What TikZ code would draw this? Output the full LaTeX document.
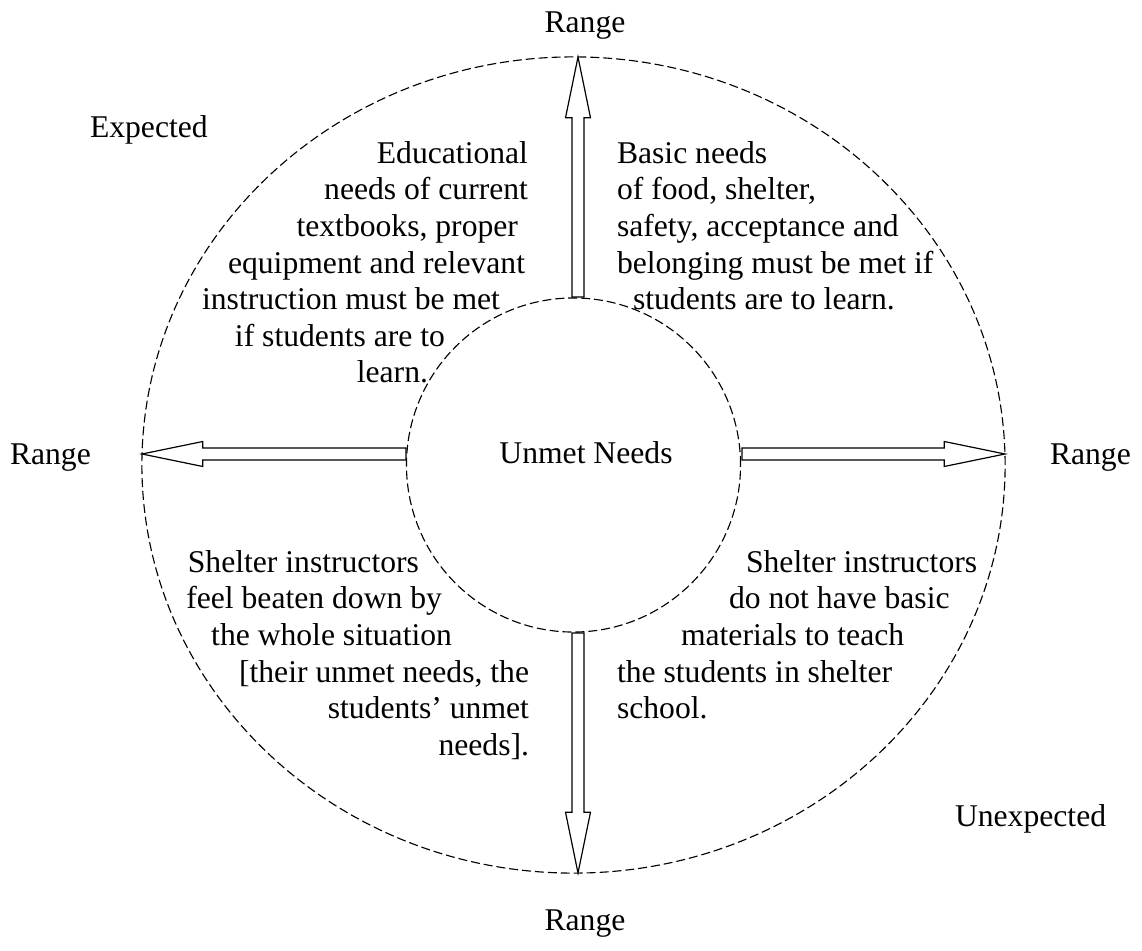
\documentclass[tikz,border=0pt]{standalone}
\usepackage{fontspec}
\setmainfont{Liberation Serif}
\usetikzlibrary{calc,shapes.geometric}
\newcommand\blockarr[2]{%
  \path ($(#2)!1.52cm!(#1)$) coordinate (hb);
  \draw[arrowbody] ($(#1)!0.15cm!90:(#2)$) -- ($(hb)!0.15cm!90:(#2)$)
    -- ($(hb)!0.3125cm!90:(#2)$) -- (#2) -- ($(hb)!0.3125cm!-90:(#2)$)
    -- ($(hb)!0.15cm!-90:(#2)$) -- ($(#1)!0.15cm!-90:(#2)$) -- cycle;}
\newcommand\gapr[1]{\rule{#1}{0pt}}
\begin{document}
\begin{tikzpicture}[x=0.025cm,y=-0.025cm,
  txt/.style={font=\fontsize{22.5}{26}\selectfont, inner sep=0pt, outer sep=0pt},
  ring/.style={draw, dash pattern=on 6.4pt off 2.8pt, line width=0.8pt, inner sep=0pt},
  arrowbody/.style={draw, fill=white, line width=0.85pt, line join=miter}]
\useasboundingbox (0,0) rectangle (1142,951);
% rings
\node[ring, ellipse, minimum width=21.575cm, minimum height=20.4cm] (outer) at (573.5,465) {};
\node[ring, circle, minimum size=8.35cm] (inner) at (573.5,465) {};
% arrow end points
\coordinate (upS) at (578,297);   \coordinate (upT) at (578,57);
\coordinate (dnS) at (578,633);   \coordinate (dnT) at (578,873);
\coordinate (lfS) at (406,454);   \coordinate (lfT) at (142,454);
\coordinate (rtS) at (742,454);   \coordinate (rtT) at (1005,454);
\blockarr{upS}{upT}
\blockarr{dnS}{dnT}
\blockarr{lfS}{lfT}
\blockarr{rtS}{rtT}
% labels
\node[txt, anchor=base] (rangeTop) at (585,33) {Range};
\node[txt, anchor=base] (rangeBot) at (585,930) {Range};
\node[txt, anchor=base west] (rangeLeft) at (10,464) {Range};
\node[txt, anchor=base west] (rangeRight) at (1050,464) {Range};
\node[txt, anchor=base west] (expected) at (90,138) {Expected};
\node[txt, anchor=base west] (unexpected) at (955,826) {Unexpected};
\node[txt, anchor=base] (unmet) at (586,463) {Unmet Needs};
% text blocks
\node[txt, align=right, anchor=north east] (edu) at (528,141.4)
  {Educational\\
   needs of current\\
   textbooks, proper\gapr{0.25cm}\\
   equipment and relevant\gapr{0.075cm}\\
   instruction must be met\gapr{0.7cm}\\
   if students are to\gapr{2.075cm}\\
   learn.\gapr{2.5cm}};
\node[txt, align=left, anchor=north west] (basic) at (617,141.4)
  {Basic needs\\
   of food, shelter,\\
   safety, acceptance and\\
   belonging must be met if\\
   \gapr{0.4cm}students are to learn.};
\node[txt, align=right, anchor=north east] (instrA) at (529,550.4)
  {Shelter instructors\gapr{2.75cm}\\
   feel beaten down by\gapr{2.175cm}\\
   the whole situation\gapr{1.925cm}\\
   {[}their unmet needs, the\\
   students' unmet\\
   needs{]}.};
\node[txt, align=left, anchor=north west] (instrB) at (617,550.4)
  {\gapr{3.225cm}Shelter instructors\\
   \gapr{2.8cm}do not have basic\\
   \gapr{1.6cm}materials to teach\\
   the students in shelter\\
   school.};
\end{tikzpicture}
\end{document}
